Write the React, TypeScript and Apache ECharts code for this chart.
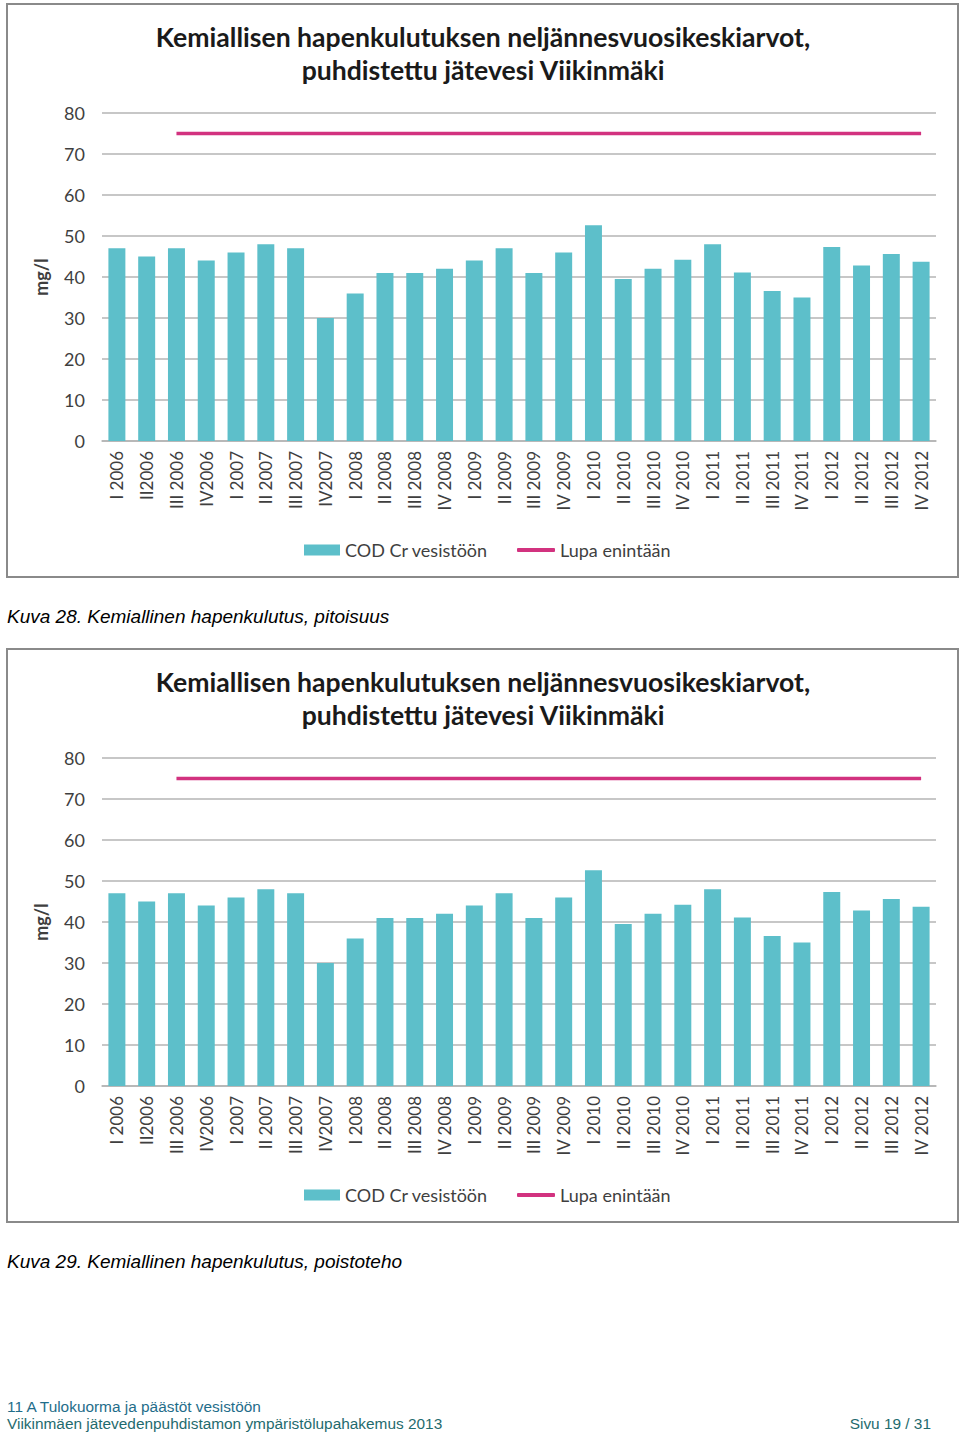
import React, { useEffect, useRef } from "react";
import * as echarts from "echarts";

const categories = [
  "I 2006", "II2006", "III 2006", "IV2006",
  "I 2007", "II 2007", "III 2007", "IV2007",
  "I 2008", "II 2008", "III 2008", "IV 2008",
  "I 2009", "II 2009", "III 2009", "IV 2009",
  "I 2010", "II 2010", "III 2010", "IV 2010",
  "I 2011", "II 2011", "III 2011", "IV 2011",
  "I 2012", "II 2012", "III 2012", "IV 2012",
];

const codValues = [
  47, 45, 47, 44,
  46, 48, 47, 30,
  36, 41, 41, 42,
  44, 47, 41, 46,
  52.6, 39.5, 42, 44.2,
  48, 41.1, 36.6, 35,
  47.3, 42.8, 45.6, 43.7,
];

const limitValues = [
  null, null, 75, 75,
  75, 75, 75, 75,
  75, 75, 75, 75,
  75, 75, 75, 75,
  75, 75, 75, 75,
  75, 75, 75, 75,
  75, 75, 75, 75,
];

const yTicks = [0, 10, 20, 30, 40, 50, 60, 70, 80];

const barName = "COD Cr vesistöön";
const lineName = "Lupa enintään";
const titleLine1 = "Kemiallisen hapenkulutuksen neljännesvuosikeskiarvot,";
const titleLine2 = "puhdistettu jätevesi Viikinmäki";
const captions = [
  "Kuva 28. Kemiallinen hapenkulutus, pitoisuus",
  "Kuva 29. Kemiallinen hapenkulutus, poistoteho",
];
const footer1 = "11 A Tulokuorma ja päästöt vesistöön";
const footer2 = "Viikinmäen jätevedenpuhdistamon ympäristölupahakemus 2013";
const footerPage = "Sivu 19 / 31";

const BAR_COLOR = "#5dbfca";
const LINE_COLOR = "#d2327f";
const TEXT_COLOR = "#3f3f3f";
const GRID_COLOR = "#b4b4b4";
const FONT = "Lato";

export default function App() {
  const ref = useRef<HTMLDivElement>(null);

  useEffect(() => {
    if (!ref.current) return;
    const chart = echarts.init(ref.current, null, { renderer: "svg" });
    const offsets = [0, 645];

    const grids = offsets.map((o) => ({
      left: 102,
      right: 24,
      top: 113 + o,
      height: 328,
      containLabel: false,
    }));

    const xAxes = offsets.map((_, i) => ({
      type: "category",
      gridIndex: i,
      data: categories,
      axisLine: { show: true, lineStyle: { color: GRID_COLOR, width: 1.5 } },
      axisTick: { show: false },
      axisLabel: {
        rotate: 90,
        margin: 10,
        interval: 0,
        fontFamily: FONT,
        fontSize: 17,
        color: TEXT_COLOR,
      },
    }));

    const yAxes = offsets.map((_, i) => ({
      type: "value",
      gridIndex: i,
      min: yTicks[0],
      max: yTicks[yTicks.length - 1],
      interval: 10,
      name: "mg/l",
      nameLocation: "middle",
      nameGap: 52,
      nameRotate: 90,
      nameTextStyle: {
        fontFamily: FONT,
        fontWeight: "bold",
        fontSize: 18,
        color: TEXT_COLOR,
      },
      axisLine: { show: false },
      axisTick: { show: false },
      axisLabel: {
        margin: 17,
        fontFamily: FONT,
        fontSize: 18,
        color: TEXT_COLOR,
      },
      splitLine: { show: true, lineStyle: { color: GRID_COLOR, width: 1.5 } },
    }));

    const series: any[] = [];
    offsets.forEach((_, i) => {
      series.push({
        name: barName,
        type: "bar",
        xAxisIndex: i,
        yAxisIndex: i,
        data: codValues,
        barCategoryGap: "43%",
        itemStyle: { color: BAR_COLOR },
      });
      series.push({
        name: lineName,
        type: "line",
        xAxisIndex: i,
        yAxisIndex: i,
        data: limitValues,
        symbol: "none",
        connectNulls: false,
        lineStyle: { color: LINE_COLOR, width: 3.5 },
        itemStyle: { color: LINE_COLOR },
      });
    });

    const legends: any[] = [];
    offsets.forEach((o) => {
      legends.push({
        left: 299,
        top: 536 + o,
        itemWidth: 36,
        itemHeight: 11,
        selectedMode: false,
        textStyle: { fontFamily: FONT, fontSize: 18, color: TEXT_COLOR },
        data: [{ name: barName, icon: "rect" }],
      });
      legends.push({
        left: 512,
        top: 536 + o,
        itemWidth: 38,
        itemHeight: 4,
        selectedMode: false,
        textStyle: { fontFamily: FONT, fontSize: 18, color: TEXT_COLOR },
        data: [{ name: lineName, icon: "roundRect" }],
      });
    });

    const graphic: any[] = [];
    offsets.forEach((o, i) => {
      graphic.push({
        type: "rect",
        shape: { x: 7, y: 4 + o, width: 951, height: 573 },
        style: { fill: "none", stroke: "#8a8a8a", lineWidth: 2 },
        silent: true,
      });
      graphic.push({
        type: "text",
        x: 483,
        y: 37 + o,
        style: {
          text: titleLine1,
          fontFamily: FONT,
          fontWeight: "bold",
          fontSize: 26.6,
          fill: "#1a1a1a",
          textAlign: "center",
          textVerticalAlign: "middle",
        },
      });
      graphic.push({
        type: "text",
        x: 483,
        y: 70 + o,
        style: {
          text: titleLine2,
          fontFamily: FONT,
          fontWeight: "bold",
          fontSize: 26.6,
          fill: "#1a1a1a",
          textAlign: "center",
          textVerticalAlign: "middle",
        },
      });
      graphic.push({
        type: "text",
        x: 7,
        y: 616 + o,
        style: {
          text: captions[i],
          fontFamily: "Liberation Sans",
          fontStyle: "italic",
          fontSize: 19,
          fill: "#000",
          textAlign: "left",
          textVerticalAlign: "middle",
        },
      });
    });
    graphic.push({
      type: "text",
      x: 7,
      y: 1406,
      style: {
        text: footer1,
        fontFamily: "Liberation Sans",
        fontSize: 15.4,
        fill: "#1f6d8a",
        textAlign: "left",
        textVerticalAlign: "middle",
      },
    });
    graphic.push({
      type: "text",
      x: 7,
      y: 1423,
      style: {
        text: footer2,
        fontFamily: "Liberation Sans",
        fontSize: 15.4,
        fill: "#1f6b6e",
        textAlign: "left",
        textVerticalAlign: "middle",
      },
    });
    graphic.push({
      type: "text",
      x: 931,
      y: 1423,
      style: {
        text: footerPage,
        fontFamily: "Liberation Sans",
        fontSize: 15.4,
        fill: "#1f6b6e",
        textAlign: "right",
        textVerticalAlign: "middle",
      },
    });

    chart.setOption({
      animation: false,
      backgroundColor: "#ffffff",
      grid: grids,
      xAxis: xAxes,
      yAxis: yAxes,
      legend: legends,
      series,
      graphic,
    });

    return () => chart.dispose();
  }, []);

  return (
    <div
      ref={ref}
      style={{ position: "absolute", left: 0, top: 0, width: 960, height: 1436 }}
    />
  );
}
